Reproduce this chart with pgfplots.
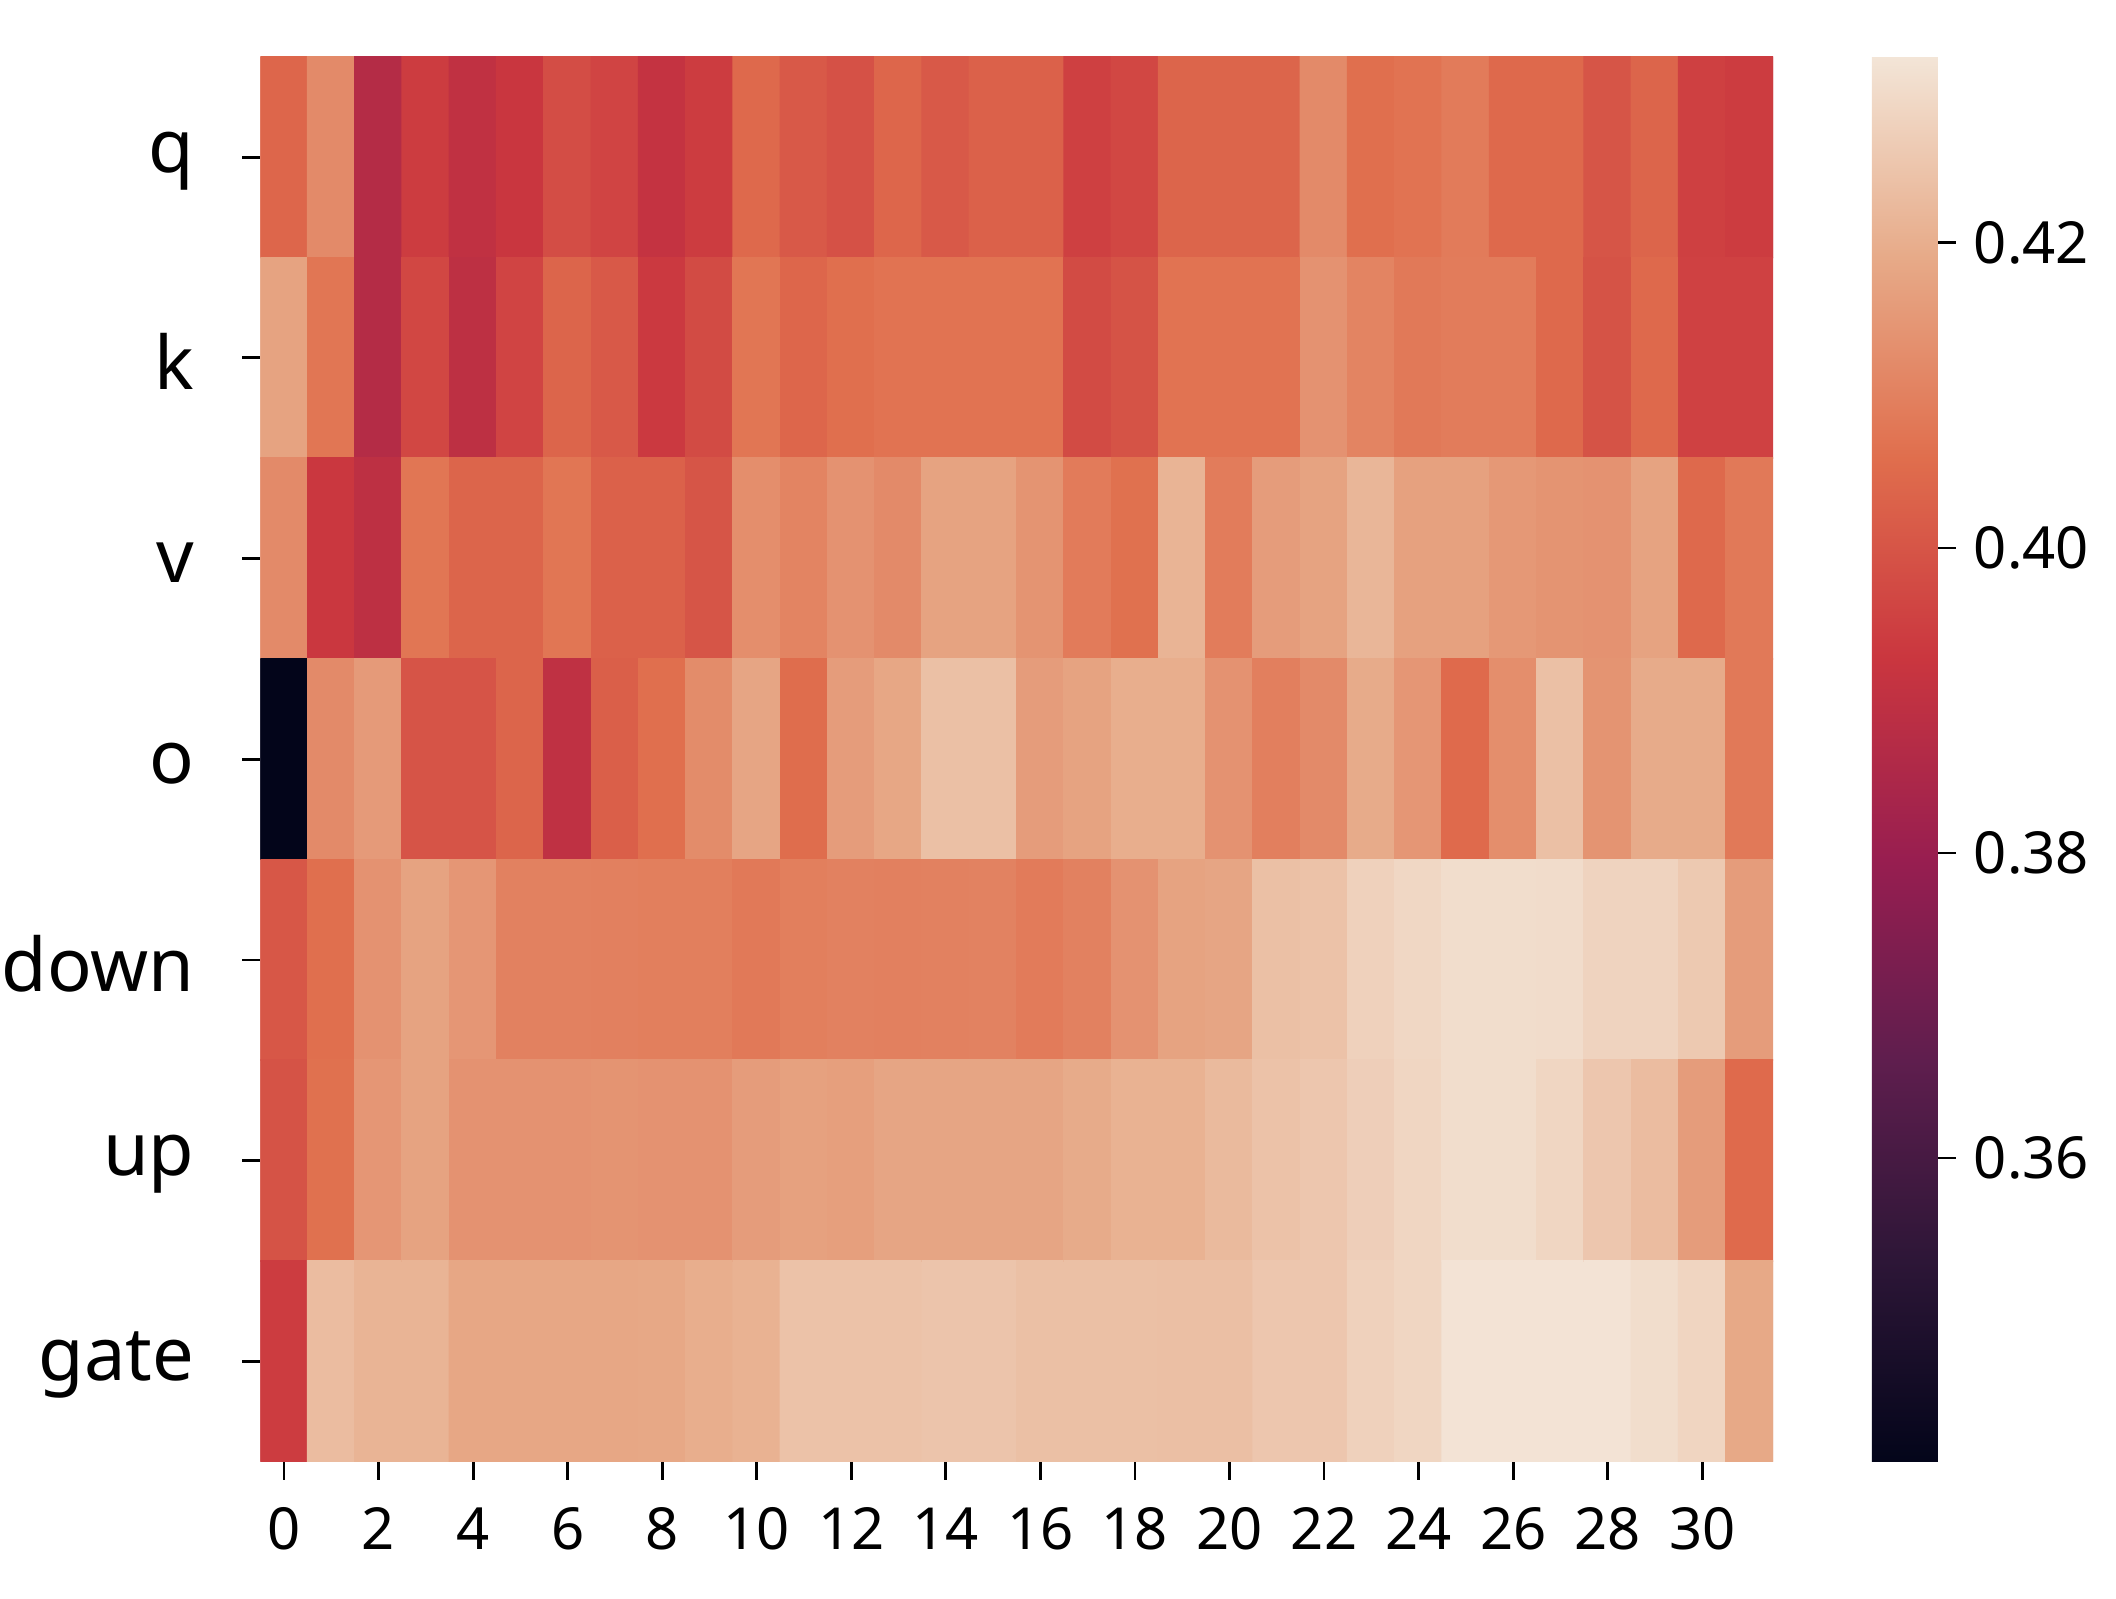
\documentclass[border=0pt]{standalone}
\usepackage{pgfplots}
\pgfplotsset{compat=1.18}
\usepackage{fontspec}
\setmainfont{Noto Sans}
\pgfplotsset{colormap={rk}{rgb255=(3,5,26) rgb255=(45,22,55) rgb255=(95,30,78) rgb255=(152,30,80) rgb255=(202,54,63) rgb255=(224,110,77) rgb255=(231,170,136) rgb255=(243,229,215)}}
\begin{document}
\begin{tikzpicture}
\path[use as bounding box] (-65.1pt,-34.1pt) rectangle (463.9pt,365.4pt);
\begin{axis}[
  at={(0,0)}, anchor=south west,
  scale only axis, width=378.2pt, height=351.2pt,
  xmin=-0.5, xmax=31.5, ymin=-0.5, ymax=6.5, y dir=reverse,
  enlargelimits=false,
  axis line style={draw=none},
  tick pos=left, tick align=outside, major tick length=4.5pt,
  tick style={black, line width=0.7pt},
  xtick={0,2,...,30}, ytick={0,1,2,3,4,5,6},
  yticklabels={q,k,v,o,down,up,gate},
  xticklabel style={font=\fontsize{14.5}{16}\selectfont, yshift=-3.4pt},
  yticklabel style={font=\fontsize{18.5}{20}\selectfont, xshift=-8.5pt, yshift=-1pt},
  /pgf/number format/assume math mode=true,
  colormap name=rk,
  point meta min=0.3401, point meta max=0.4322,
  colorbar,
  colorbar/width=16.5pt,
  colorbar style={
    at={(parent axis.north east)}, anchor=north west, xshift=16.1pt,
    axis line style={draw=none},
    ytick={0.36,0.38,0.40,0.42},
    ytick pos=right,
    tick align=outside, major tick length=4.5pt,
    tick style={black, line width=0.7pt},
    yticklabel style={font=\fontsize{14.5}{16}\selectfont, xshift=1pt,
      /pgf/number format/.cd, fixed, fixed zerofill, precision=2, assume math mode=true},
  },
]
\addplot[matrix plot*, mesh/cols=32, point meta=explicit] coordinates {
(0,0)[0.404] (1,0)[0.412] (2,0)[0.387] (3,0)[0.394] (4,0)[0.390] (5,0)[0.3925] (6,0)[0.398] (7,0)[0.396] (8,0)[0.391] (9,0)[0.394] (10,0)[0.4046] (11,0)[0.401] (12,0)[0.399] (13,0)[0.404] (14,0)[0.401] (15,0)[0.4027] (16,0)[0.4027] (17,0)[0.395] (18,0)[0.3967] (19,0)[0.4037] (20,0)[0.4037] (21,0)[0.4037] (22,0)[0.412] (23,0)[0.406] (24,0)[0.407] (25,0)[0.4087] (26,0)[0.4046] (27,0)[0.4046] (28,0)[0.400] (29,0)[0.4037] (30,0)[0.395] (31,0)[0.394]

(0,1)[0.4175] (1,1)[0.4075] (2,1)[0.387] (3,1)[0.3967] (4,1)[0.3894] (5,1)[0.396] (6,1)[0.4037] (7,1)[0.401] (8,1)[0.3935] (9,1)[0.3977] (10,1)[0.4075] (11,1)[0.404] (12,1)[0.406] (13,1)[0.407] (14,1)[0.407] (15,1)[0.407] (16,1)[0.407] (17,1)[0.3977] (18,1)[0.3995] (19,1)[0.407] (20,1)[0.407] (21,1)[0.407] (22,1)[0.4138] (23,1)[0.4106] (24,1)[0.4083] (25,1)[0.409] (26,1)[0.409] (27,1)[0.4046] (28,1)[0.3995] (29,1)[0.4046] (30,1)[0.3954] (31,1)[0.3954]

(0,2)[0.412] (1,2)[0.393] (2,2)[0.3894] (3,2)[0.4075] (4,2)[0.4037] (5,2)[0.4037] (6,2)[0.4075] (7,2)[0.4027] (8,2)[0.4027] (9,2)[0.400] (10,2)[0.4128] (11,2)[0.4106] (12,2)[0.4138] (13,2)[0.412] (14,2)[0.4175] (15,2)[0.4175] (16,2)[0.4142] (17,2)[0.4087] (18,2)[0.4064] (19,2)[0.4212] (20,2)[0.409] (21,2)[0.416] (22,2)[0.4175] (23,2)[0.4216] (24,2)[0.417] (25,2)[0.417] (26,2)[0.415] (27,2)[0.4142] (28,2)[0.4138] (29,2)[0.4175] (30,2)[0.4046] (31,2)[0.4083]

(0,3)[0.3401] (1,3)[0.412] (2,3)[0.4156] (3,3)[0.3998] (4,3)[0.3998] (5,3)[0.4037] (6,3)[0.3898] (7,3)[0.4023] (8,3)[0.406] (9,3)[0.4124] (10,3)[0.418] (11,3)[0.4055] (12,3)[0.416] (13,3)[0.4184] (14,3)[0.4239] (15,3)[0.4239] (16,3)[0.416] (17,3)[0.4175] (18,3)[0.4198] (19,3)[0.4198] (20,3)[0.4138] (21,3)[0.4096] (22,3)[0.412] (23,3)[0.4193] (24,3)[0.4147] (25,3)[0.405] (26,3)[0.4128] (27,3)[0.4239] (28,3)[0.4142] (29,3)[0.4193] (30,3)[0.4193] (31,3)[0.4083]

(0,4)[0.4004] (1,4)[0.406] (2,4)[0.4138] (3,4)[0.4175] (4,4)[0.4147] (5,4)[0.410] (6,4)[0.410] (7,4)[0.4098] (8,4)[0.4095] (9,4)[0.4095] (10,4)[0.4083] (11,4)[0.4095] (12,4)[0.410] (13,4)[0.4098] (14,4)[0.410] (15,4)[0.4102] (16,4)[0.4088] (17,4)[0.410] (18,4)[0.4138] (19,4)[0.4175] (20,4)[0.418] (21,4)[0.4239] (22,4)[0.4244] (23,4)[0.4276] (24,4)[0.429] (25,4)[0.4304] (26,4)[0.4304] (27,4)[0.4302] (28,4)[0.4281] (29,4)[0.4281] (30,4)[0.4258] (31,4)[0.416]

(0,5)[0.3995] (1,5)[0.4064] (2,5)[0.4147] (3,5)[0.4175] (4,5)[0.4138] (5,5)[0.4138] (6,5)[0.4138] (7,5)[0.4142] (8,5)[0.4138] (9,5)[0.4138] (10,5)[0.416] (11,5)[0.417] (12,5)[0.4165] (13,5)[0.418] (14,5)[0.418] (15,5)[0.418] (16,5)[0.418] (17,5)[0.4193] (18,5)[0.4207] (19,5)[0.4207] (20,5)[0.4225] (21,5)[0.4244] (22,5)[0.4253] (23,5)[0.4271] (24,5)[0.4287] (25,5)[0.4304] (26,5)[0.4304] (27,5)[0.4287] (28,5)[0.4253] (29,5)[0.423] (30,5)[0.416] (31,5)[0.405]

(0,6)[0.394] (1,6)[0.423] (2,6)[0.4212] (3,6)[0.4212] (4,6)[0.4184] (5,6)[0.4184] (6,6)[0.4184] (7,6)[0.4184] (8,6)[0.4186] (9,6)[0.4198] (10,6)[0.4207] (11,6)[0.4244] (12,6)[0.4244] (13,6)[0.4244] (14,6)[0.4248] (15,6)[0.4248] (16,6)[0.4239] (17,6)[0.4239] (18,6)[0.4239] (19,6)[0.4237] (20,6)[0.4237] (21,6)[0.4253] (22,6)[0.4253] (23,6)[0.4276] (24,6)[0.4287] (25,6)[0.4318] (26,6)[0.4318] (27,6)[0.4318] (28,6)[0.4318] (29,6)[0.4304] (30,6)[0.4285] (31,6)[0.4188]
};
\end{axis}
\end{tikzpicture}
\end{document}
